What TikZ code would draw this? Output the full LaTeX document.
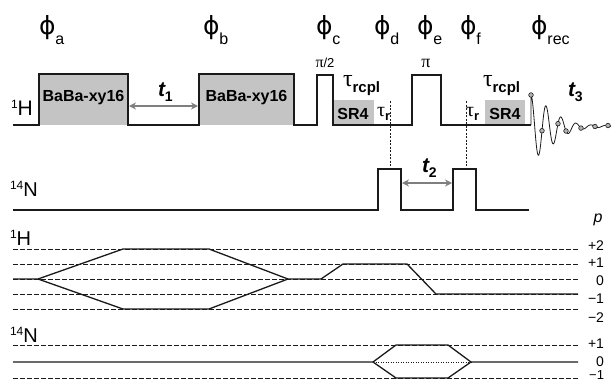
\documentclass[tikz,border=0pt]{standalone}
\usepackage{fontspec}
\setmainfont{Liberation Sans}
\newfontfamily\dvs{DejaVu Sans}
\newfontfamily\lserif{Liberation Serif}
\usetikzlibrary{arrows.meta}
\definecolor{boxgray}{HTML}{C4C4C4}
\definecolor{arrgray}{HTML}{7F7F7F}
\definecolor{ink}{HTML}{1A1A1A}
\newcommand\fs[1]{\fontsize{#1}{#1}\selectfont}
\newcommand\phil[1]{{\fs{25}\dvs ϕ}\raisebox{-10pt}{\fs{16}#1}}
\begin{document}
\begin{tikzpicture}[x=1pt,y=-1pt,
  seq/.style={draw=ink,line width=1.4pt,line join=miter},
  lvl/.style={draw=ink,line width=0.8pt,dash pattern=on 4.5pt off 2.5pt},
  path/.style={draw=ink,line width=1.3pt,line join=round},
  vdash/.style={draw=ink,line width=0.6pt,dash pattern=on 2pt off 1.5pt},
  tarrow/.style={draw=arrgray,fill=arrgray,line width=1.8pt,{Stealth[length=7pt,width=7pt]}-{Stealth[length=7pt,width=7pt]}},
  txt/.style={inner sep=0pt,outer sep=0pt},
  phlab/.style={txt,anchor=base west},
  plev/.style={txt,anchor=east,font=\fs{14}},
  declare function={fidA(\t)=0.8*exp(-(\t/28)^2)+0.2*exp(-\t/40);
                    fid(\t)=125+4*(1-exp(-\t/4))*exp(-\t/60)-30*cos(\t*24)*fidA(\t);}]
\useasboundingbox (0,0) rectangle (611,383);
% phase labels
\node[phlab] (pa) at (39,34) {\phil{a}};
\node[phlab] (pb) at (203,34) {\phil{b}};
\node[phlab] (pc) at (316,34) {\phil{c}};
\node[phlab] (pd) at (374,34) {\phil{d}};
\node[phlab] (pe) at (417,34) {\phil{e}};
\node[phlab] (pf) at (460,34) {\phil{f}};
\node[phlab] (prec) at (531,34) {\phil{rec}};
% 1H channel
\fill[boxgray] (39,74) rectangle (128,125);
\fill[boxgray] (199,74) rectangle (294,125);
\fill[boxgray] (333,100) rectangle (374,125);
\fill[boxgray] (485,100) rectangle (525,125);
\draw[seq] (13,125) -- (39,125) -- (39,74) -- (128,74) -- (128,125) -- (199,125) -- (199,74) -- (294,74) -- (294,125)
  -- (317,125) -- (317,75) -- (333,75) -- (333,125) -- (412,125) -- (412,75) -- (441,75) -- (441,125) -- (531,125);
\draw[draw=ink,line width=0.8pt] (531,125) -- (531,{fid(0)}) -- plot[domain=0:80,samples=300,smooth] ({531+\x},{fid(\x)});
\foreach \t in {0,11,27,35,50,64,77}
  \draw[draw=ink,fill=gray!60,line width=0.6pt] ({531+\t},{fid(\t)}) circle (2.3pt);
\node[txt,font=\fs{16}\bfseries] (bb1) at (83.5,98) {BaBa-xy16};
\node[txt,font=\fs{16}\bfseries] (bb2) at (246.5,98) {BaBa-xy16};
\node[txt,font=\fs{16}\bfseries] (sr1) at (353,113.5) {SR4};
\node[txt,font=\fs{16}\bfseries] (sr2) at (505,113.5) {SR4};
\node[phlab] (H1) at (11,115.5) {\raisebox{7pt}{\fs{12}1}{\fs{21}H}};
\node[txt] (p2) at (325,63) {{\lserif\fs{16}π}{\fs{13}/2}};
\node[txt] (pi) at (426,63) {\lserif\fs{18}π};
\node[phlab] (trc1) at (343,86) {{\lserif\fs{24}τ}\raisebox{-6pt}{\fs{15}\bfseries rcpl}};
\node[phlab] (trc2) at (483,86) {{\lserif\fs{24}τ}\raisebox{-6pt}{\fs{15}\bfseries rcpl}};
\node[phlab] (tr1) at (377,116) {{\lserif\fs{20}τ}\raisebox{-4pt}{\fs{13}\bfseries r}};
\node[phlab] (tr2) at (466,116) {{\lserif\fs{20}τ}\raisebox{-4pt}{\fs{13}\bfseries r}};
\node[phlab] (tone) at (158,96) {{\fs{21}\bfseries\itshape t}\raisebox{-5pt}{\fs{14}\bfseries 1}};
\node[phlab] (tthree) at (568,96) {{\fs{21}\bfseries\itshape t}\raisebox{-5pt}{\fs{14}\bfseries 3}};
\coordinate (arrAL) at (129,106);
\coordinate (arrAR) at (198,106);
\draw[tarrow] (arrAL) -- (arrAR);
% 14N channel
\draw[seq] (13,210) -- (378,210) -- (378,169) -- (401,169) -- (401,210) -- (453,210) -- (453,169) -- (476,169) -- (476,210) -- (529,210);
\draw[vdash] (390,101) -- (390,169);
\draw[vdash] (466,101) -- (466,169);
\node[phlab] (N1) at (10,196) {\raisebox{7pt}{\fs{12}14}{\fs{20}N}};
\node[phlab] (ttwo) at (422,172) {{\fs{21}\bfseries\itshape t}\raisebox{-5pt}{\fs{14}\bfseries 2}};
\coordinate (arrBL) at (402,183);
\coordinate (arrBR) at (452,183);
\draw[tarrow] (arrBL) -- (arrBR);
% coherence pathways
\node[txt,font=\fs{16}\itshape] (plab) at (598,220) {p};
\node[phlab] (H2) at (10,245) {\raisebox{7pt}{\fs{12}1}{\fs{20}H}};
\node[phlab] (N2) at (10,342) {\raisebox{7pt}{\fs{12}14}{\fs{20}N}};
\foreach \yy in {249,264,279,294,309} \draw[lvl] (13,\yy) -- (578,\yy);
\draw[lvl] (13,345) -- (578,345);
\draw[lvl] (13,378) -- (578,378);
\node[plev] (hp2) at (604,246) {+2};
\node[plev] (hp1) at (604,263) {+1};
\node[plev] (h0) at (604,281) {0};
\node[plev] (hm1) at (604,299) {−1};
\node[plev] (hm2) at (604,318) {−2};
\node[plev] (np1) at (604,344) {+1};
\node[plev] (n0) at (604,362) {0};
\node[plev,font=\fs{13}] (nm1) at (604,375) {−1};
\draw[path] (13,279) -- (38,279) -- (123,249) -- (209,249) -- (288,279) -- (321,279) -- (343,264) -- (407,264) -- (436,294) -- (578,294);
\draw[path] (38,279) -- (123,309) -- (209,309) -- (288,279);
\draw[path] (13,362) -- (373,362) -- (396,345) -- (448,345) -- (471,362) -- (578,362);
\draw[path] (373,362) -- (396,378) -- (448,378) -- (471,362);
\draw[draw=ink,line width=0.5pt,dotted] (373,362) -- (471,362);
\end{tikzpicture}
\end{document}
